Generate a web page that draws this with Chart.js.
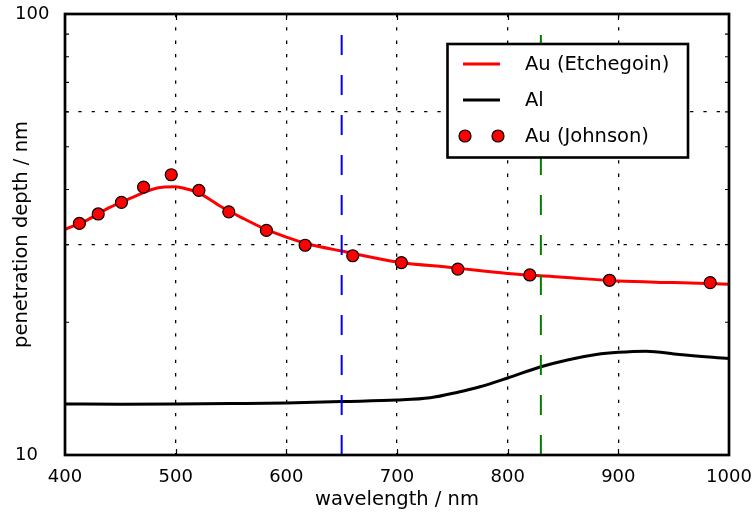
<!DOCTYPE html>
<html>
<head>
<meta charset="utf-8">
<script src="https://cdn.jsdelivr.net/npm/chart.js@4.4.1/dist/chart.umd.min.js"></script>
<style>
  html, body { margin: 0; padding: 0; background: #fff; }
</style>
</head>
<body>
<canvas id="chart" width="755" height="513"></canvas>
<script>
// Au (Etchegoin) model curve
const etchWl = [400, 420, 440, 460, 480, 490, 500, 510, 520, 540, 560, 580, 600, 620, 650, 700, 750, 800, 850, 900, 950, 1000];
const etchDepth = [32.5, 34.1, 36.4, 38.3, 40.1, 40.5, 40.6, 40.1, 39.4, 36.7, 34.5, 32.6, 31.2, 30.1, 29.0, 27.4, 26.6, 25.8, 25.3, 24.8, 24.6, 24.4];

// Al
const alWl = [400, 450, 500, 550, 600, 650, 700, 730, 755, 775, 800, 830, 855, 880, 900, 925, 955, 1000];
const alDepth = [13.05, 13.04, 13.05, 13.08, 13.12, 13.22, 13.32, 13.48, 13.88, 14.28, 14.95, 15.85, 16.45, 16.9, 17.1, 17.2, 16.9, 16.55];

// Au (Johnson) measured points
const johnWl = [413, 430, 451, 471, 496, 521, 548, 582, 617, 660, 704, 755, 820, 892, 983];
const johnDepth = [33.5, 35.2, 37.4, 40.5, 43.2, 39.8, 35.6, 32.3, 29.9, 28.3, 27.3, 26.4, 25.6, 24.9, 24.6];

// marker wavelengths (dashed lines)
const markerWl = [650, 830];
const markerColors = ['#0000ff', '#008000'];

const yTickValues = [10, 20, 30, 40, 50, 60, 70, 80, 90, 100];
const yLabelValues = [10, 100];
const yGridValues = [30, 60];
const xTickValues = [400, 500, 600, 700, 800, 900, 1000];

const FONT = 'DejaVu Sans';

const toXY = (xs, ys) => xs.map((x, i) => ({ x, y: ys[i] }));

const vlineSets = markerWl.map((wl, i) => ({
  data: [{ x: wl, y: 10 }, { x: wl, y: 100 }],
  borderColor: markerColors[i],
  borderWidth: 2,
  borderDash: [20, 20],
  pointRadius: 0,
  order: 1,
}));

const framePlugin = {
  id: 'frame',
  afterDatasetsDraw(chart) {
    const { ctx, chartArea: a, scales } = chart;
    ctx.save();
    ctx.strokeStyle = '#000';
    ctx.lineWidth = 1.2;
    scales.y.ticks.forEach((t) => {
      if (yLabelValues.includes(t.value)) return;
      const py = scales.y.getPixelForValue(t.value);
      ctx.beginPath();
      ctx.moveTo(a.left, py); ctx.lineTo(a.left + 4, py);
      ctx.moveTo(a.right, py); ctx.lineTo(a.right - 4, py);
      ctx.stroke();
    });
    scales.x.ticks.forEach((t) => {
      if (t.value === 400 || t.value === 1000) return;
      const px = Math.round(scales.x.getPixelForValue(t.value)) + 0.5;
      ctx.beginPath();
      ctx.moveTo(px, a.bottom); ctx.lineTo(px, a.bottom - 6);
      ctx.moveTo(px, a.top); ctx.lineTo(px, a.top + 6);
      ctx.stroke();
    });
    ctx.lineWidth = 2.7;
    ctx.strokeRect(a.left, a.top, a.right - a.left, a.bottom - a.top);
    ctx.restore();
  },
};

const legendPlugin = {
  id: 'boxLegend',
  afterDraw(chart) {
    const { ctx } = chart;
    const items = chart.data.datasets.filter((d) => d.label);
    ctx.save();
    ctx.fillStyle = '#fff';
    ctx.fillRect(447.5, 44, 240.5, 113.5);
    ctx.strokeStyle = '#000';
    ctx.lineWidth = 2.6;
    ctx.strokeRect(447.5, 44, 240.5, 113.5);
    ctx.font = `19.5px "${FONT}"`;
    ctx.textBaseline = 'middle';
    ctx.textAlign = 'left';
    items.forEach((d, i) => {
      const y = 64 + i * 36;
      if (d.showLine === false) {
        [465, 498].forEach((cx) => {
          ctx.beginPath();
          ctx.arc(cx, y, 6, 0, Math.PI * 2);
          ctx.fillStyle = d.pointBackgroundColor;
          ctx.fill();
          ctx.lineWidth = 1.2;
          ctx.strokeStyle = '#000';
          ctx.stroke();
        });
      } else {
        ctx.beginPath();
        ctx.moveTo(463, y); ctx.lineTo(500, y);
        ctx.strokeStyle = d.borderColor;
        ctx.lineWidth = 3;
        ctx.stroke();
      }
      ctx.fillStyle = '#000';
      ctx.fillText(d.label, 525, y + 1);
    });
    ctx.restore();
  },
};

new Chart(document.getElementById('chart'), {
  type: 'line',
  data: {
    datasets: [
      {
        label: 'Au (Etchegoin)',
        data: toXY(etchWl, etchDepth),
        borderColor: '#ff0000',
        borderWidth: 3,
        pointRadius: 0,
        cubicInterpolationMode: 'monotone',
        order: 2,
      },
      {
        label: 'Al',
        data: toXY(alWl, alDepth),
        borderColor: '#000000',
        borderWidth: 3,
        pointRadius: 0,
        cubicInterpolationMode: 'monotone',
        order: 3,
      },
      {
        label: 'Au (Johnson)',
        data: toXY(johnWl, johnDepth),
        showLine: false,
        pointRadius: 6,
        pointBackgroundColor: '#ff0000',
        pointBorderColor: '#000000',
        pointBorderWidth: 1.2,
        order: 0,
      },
      ...vlineSets,
    ],
  },
  options: {
    responsive: false,
    devicePixelRatio: 1,
    animation: false,
    layout: { padding: { left: 15, right: 26, top: 14, bottom: 0 } },
    plugins: { legend: { display: false }, tooltip: { enabled: false } },
    scales: {
      x: {
        type: 'linear',
        min: 400,
        max: 1000,
        afterBuildTicks: (s) => { s.ticks = xTickValues.map((v) => ({ value: v })); },
        afterFit: (s) => {
          s.height = 58;
          s.paddingLeft = 0;
          s.paddingRight = 0;
        },
        ticks: {
          color: '#000',
          font: { family: FONT, size: 18 },
          padding: 12,
          maxRotation: 0,
          callback: (v) => String(v),
        },
        grid: {
          drawTicks: false,
          lineWidth: 1.3,
          color: (c) => (c.tick && (c.tick.value === 400 || c.tick.value === 1000) ? 'rgba(0,0,0,0)' : '#000'),
        },
        border: { display: false, dash: [3.3, 10] },
        title: {
          display: true,
          text: 'wavelength / nm',
          color: '#000',
          font: { family: FONT, size: 19.5 },
          padding: { top: 0, bottom: 1.3 },
        },
      },
      y: {
        type: 'logarithmic',
        min: 10,
        max: 100,
        afterBuildTicks: (s) => { s.ticks = yTickValues.map((v) => ({ value: v })); },
        afterFit: (s) => {
          s.width = 50;
          s.paddingTop = 0;
          s.paddingBottom = 0;
        },
        ticks: {
          color: '#000',
          font: { family: FONT, size: 18 },
          crossAlign: 'far',
          autoSkip: false,
          callback: (v) => (yLabelValues.includes(v) ? String(v) : ''),
        },
        grid: {
          drawTicks: false,
          lineWidth: 1.3,
          color: (c) => (c.tick && yGridValues.includes(c.tick.value) ? '#000' : 'rgba(0,0,0,0)'),
        },
        border: { display: false, dash: [3.3, 10] },
        title: {
          display: true,
          text: 'penetration depth / nm',
          color: '#000',
          font: { family: FONT, size: 19.5 },
          padding: { top: -4.7, bottom: 0 },
        },
      },
    },
  },
  plugins: [framePlugin, legendPlugin],
});
</script>
</body>
</html>
